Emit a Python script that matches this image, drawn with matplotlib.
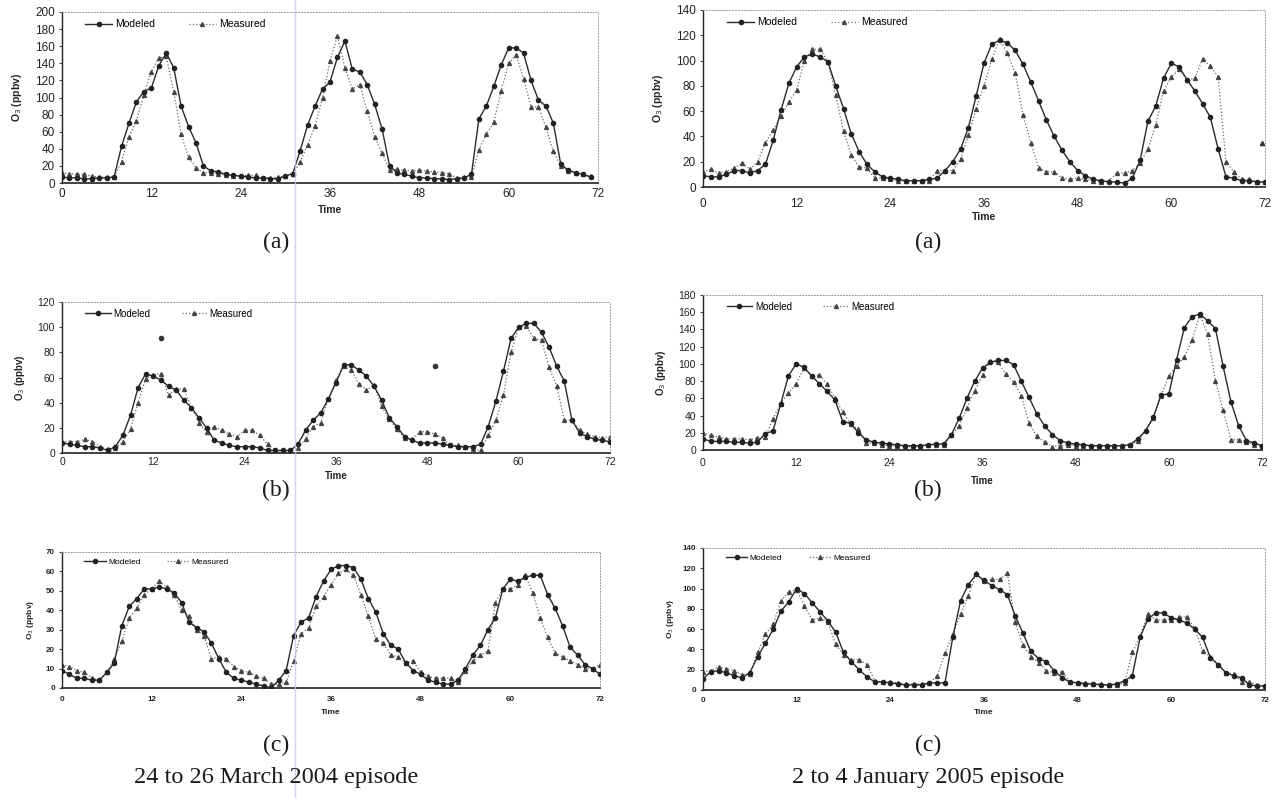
import matplotlib
matplotlib.use("Agg")
import matplotlib.pyplot as plt
from matplotlib.lines import Line2D
import numpy as np

W, H = 1282, 798
fig = plt.figure(figsize=(W / 100, H / 100), dpi=100)
fig.patch.set_facecolor("white")

plt.rcParams["font.family"] = ["Liberation Sans", "DejaVu Sans"]

# ---- data (hourly O3, ppbv) -------------------------------------------------
# 24-26 March 2004 episode
la_mod = [7, 6, 6, 5, 5, 6, 6, 7, 43, 70, 95, 107, 111, 137, 152, 135, 90, 66, 47, 20,
          14, 13, 10, 9, 8, 7, 6, 6, 5, 5, 8, 11, 38, 68, 90, 110, 118, 147, 166, 133,
          130, 115, 92, 63, 20, 12, 10, 8, 6, 6, 5, 5, 4, 5, 6, 10, 75, 90, 113, 138,
          158, 158, 152, 120, 97, 90, 70, 22, 15, 12, 10, 7]
la_meas = [12, 11, 10, 10, 8, 7, 7, 7, 25, 54, 73, 103, 130, 146, 148, 107, 57, 30, 18, 12,
           12, 11, 9, 8, 8, 9, 9, 6, 6, 7, 8, 10, 25, 45, 67, 100, 143, 172, 135, 110,
           115, 84, 54, 35, 15, 16, 15, 14, 15, 14, 13, 12, 11, 6, 7, 7, 39, 57, 71, 108,
           140, 150, 122, 89, 89, 65, 37, 20, 14, 12, 10, 8]

lb_mod = [8, 7, 6, 5, 5, 4, 2, 5, 14, 30, 52, 63, 61, 58, 53, 50, 42, 36, 28, 20,
          10, 8, 6, 5, 5, 5, 4, 2, 2, 2, 2, 7, 18, 26, 32, 43, 56, 70, 70, 66,
          61, 53, 42, 28, 21, 13, 10, 8, 8, 8, 7, 6, 5, 5, 5, 7, 21, 41, 65, 91,
          100, 103, 103, 96, 84, 69, 57, 26, 16, 13, 11, 10, 9]
lb_meas = [9, 9, 9, 11, 9, 5, 3, 4, 9, 19, 40, 59, 62, 63, 46, 51, 51, 36, 24, 17,
           21, 18, 15, 13, 18, 18, 14, 7, 2, 2, 2, 4, 11, 21, 24, 43, 58, 69, 66, 55,
           50, 54, 37, 27, 19, 12, 11, 17, 17, 15, 12, 6, 6, 5, 3, 2, 14, 26, 46, 80,
           100, 101, 91, 90, 68, 53, 26, 26, 18, 15, 13, 12, 13]
lb_odd_x = [13, 49]
lb_odd_y = [91, 69]

lc_mod = [9, 7, 5, 5, 4, 4, 8, 13, 32, 42, 46, 51, 51, 52, 51, 49, 44, 34, 31, 29,
          23, 15, 8, 5, 4, 3, 2, 1, 0, 4, 9, 27, 34, 36, 47, 55, 61, 63, 63, 62,
          56, 46, 39, 28, 22, 20, 13, 9, 7, 4, 3, 2, 2, 4, 10, 17, 22, 30, 36, 51,
          56, 55, 57, 58, 58, 48, 41, 32, 21, 17, 12, 10, 7]
lc_meas = [12, 11, 9, 8, 5, 4, 8, 15, 24, 36, 41, 48, 51, 55, 52, 48, 40, 37, 30, 27,
           15, 16, 15, 11, 9, 8, 6, 5, 2, 2, 3, 14, 28, 31, 42, 47, 53, 59, 61, 58,
           48, 37, 25, 23, 17, 16, 13, 14, 8, 6, 5, 5, 5, 3, 9, 14, 17, 19, 44, 51,
           51, 53, 58, 49, 36, 26, 18, 16, 14, 12, 10, 10, 12]

# 2-4 January 2005 episode
ra_mod = [9, 8, 8, 10, 13, 13, 11, 13, 18, 37, 61, 82, 95, 103, 105, 103, 99, 80, 62, 42,
          28, 18, 12, 8, 7, 6, 5, 5, 5, 6, 7, 13, 20, 30, 47, 72, 98, 113, 116, 114,
          108, 97, 83, 68, 53, 40, 29, 20, 13, 9, 6, 5, 4, 4, 3, 7, 21, 52, 64, 86,
          98, 95, 85, 76, 66, 55, 30, 8, 7, 5, 5, 4, 4]
ra_meas = [12, 14, 11, 12, 15, 19, 14, 20, 35, 45, 56, 67, 77, 100, 109, 109, 99, 73, 44, 25,
           16, 15, 7, 7, 6, 5, 5, 5, 5, 5, 13, 13, 13, 22, 41, 62, 80, 101, 117, 106,
           90, 57, 35, 15, 12, 12, 7, 6, 7, 6, 5, 4, 5, 11, 11, 13, 19, 30, 49, 76,
           87, 93, 85, 86, 101, 96, 87, 20, 12, 6, 6, 4, 4]
ra_odd_x = [71.6]
ra_odd_y = [35]

rb_mod = [13, 10, 10, 10, 9, 9, 8, 9, 19, 22, 53, 86, 100, 96, 86, 77, 68, 58, 33, 31,
          20, 12, 9, 8, 7, 6, 5, 5, 5, 6, 7, 7, 18, 37, 60, 80, 95, 102, 104, 104,
          99, 80, 61, 42, 28, 18, 11, 8, 7, 6, 5, 5, 5, 5, 5, 6, 13, 22, 38, 64,
          65, 105, 142, 155, 158, 150, 141, 97, 56, 28, 11, 8, 5]
rb_meas = [20, 17, 15, 13, 13, 13, 12, 14, 15, 36, 54, 66, 77, 95, 86, 87, 77, 60, 44, 30,
           24, 8, 8, 6, 5, 5, 4, 4, 4, 6, 6, 6, 17, 28, 49, 69, 87, 103, 102, 88,
           79, 63, 31, 16, 9, 4, 5, 6, 5, 5, 5, 5, 5, 5, 5, 6, 10, 23, 37, 63,
           86, 98, 108, 128, 157, 135, 80, 46, 12, 12, 9, 6, 4]

rc_mod = [11, 18, 19, 17, 14, 12, 17, 33, 46, 60, 78, 87, 100, 95, 86, 77, 68, 57, 37, 28,
          20, 13, 8, 8, 7, 6, 5, 5, 5, 7, 7, 7, 52, 88, 104, 114, 108, 103, 99, 94,
          73, 56, 38, 31, 28, 19, 12, 8, 7, 6, 6, 5, 5, 6, 9, 14, 52, 70, 76, 76,
          71, 69, 66, 60, 52, 32, 25, 17, 14, 12, 5, 4, 4]
rc_meas = [18, 19, 23, 21, 19, 15, 16, 37, 55, 65, 88, 97, 99, 83, 69, 71, 67, 45, 35, 30,
           30, 25, 9, 8, 8, 7, 6, 6, 6, 7, 14, 36, 55, 75, 93, 115, 107, 109, 109, 115,
           67, 44, 33, 27, 19, 17, 18, 8, 7, 7, 6, 6, 5, 5, 7, 37, 53, 75, 69, 69,
           69, 72, 72, 61, 38, 33, 25, 17, 16, 8, 8, 5, 4]

hour_ticks = [0, 12, 24, 36, 48, 60, 72]


def panel(box, mod, meas, ymax, ystep, tick_y, time_y, ylab_x, fs, lfs,
          odd=None, odd_marker="o"):
    x0, x1, yt, yb = box
    w, h = x1 - x0, yb - yt
    ax = fig.add_axes([x0 / W, 1 - yb / H, w / W, h / H])
    ax.plot(np.arange(len(mod)), mod, "-", color="#2b2b2b", lw=1.0,
            marker="o", ms=3.0, mfc="#222", mec="#222", label="Modeled", zorder=3)
    ax.plot(np.arange(len(meas)), meas, ":", color="#6a6a6a", lw=0.9,
            marker="^", ms=2.8, mfc="#444", mec="#444", label="Measured", zorder=2)
    if odd is not None:
        ax.plot(odd[0], odd[1], linestyle="none", marker=odd_marker, ms=3.0,
                color="#333", zorder=2, clip_on=False)
    ax.set_xlim(0, 72)
    ax.set_ylim(0, ymax)
    ax.set_xticks(hour_ticks)
    ax.set_yticks(np.arange(0, ymax + 1, ystep))

    for s in ("top", "right"):
        ax.spines[s].set_linestyle((0, (1, 2)))
        ax.spines[s].set_color("#9a9a9a")
        ax.spines[s].set_linewidth(0.7)
    ax.spines["left"].set_color("#222")
    ax.spines["left"].set_linewidth(1.0)
    ax.spines["bottom"].set_color("#333")
    ax.spines["bottom"].set_linewidth(1.3)

    fpx = fs * 100 / 72
    pad = max(tick_y - yb - 0.45 * fpx, 0) * 0.72
    ax.tick_params(axis="x", length=0, pad=pad, labelsize=fs, colors="#222")
    ax.tick_params(axis="y", length=2, width=0.6, pad=3, labelsize=fs, colors="#222")
    for lab in ax.get_xticklabels() + ax.get_yticklabels():
        lab.set_fontweight("bold" if fs < 7 else "normal")

    ax.set_xlabel("Time", fontsize=lfs, fontweight="bold", color="#222")
    ax.xaxis.set_label_coords(0.5, -(time_y - yb) / h)
    ax.xaxis.label.set_va("center")
    ax.set_ylabel("O$_3$ (ppbv)", fontsize=lfs, fontweight="bold", color="#222")
    ax.yaxis.set_label_coords((ylab_x - x0) / w, 0.5)
    ax.yaxis.label.set_va("center")

    ax.legend(loc="upper left", bbox_to_anchor=(0.03, 1.0), ncol=2, frameon=False,
              fontsize=lfs, handlelength=2.6, columnspacing=3.2, handletextpad=0.3,
              borderaxespad=0.3)
    return ax


panel((62, 598, 12, 183), la_mod, la_meas, 200, 20, 193, 210, 17, 8.5, 7.5)
panel((62, 610, 302, 453), lb_mod, lb_meas, 120, 20, 462, 476, 20, 7.5, 7.0,
      odd=(lb_odd_x, lb_odd_y))
panel((62, 600, 552, 688), lc_mod, lc_meas, 70, 10, 700, 712, 30, 5.8, 6.0)

panel((703, 1265, 10, 187), ra_mod, ra_meas, 140, 20, 203, 217, 658, 8.5, 7.5,
      odd=(ra_odd_x, ra_odd_y), odd_marker="^")
panel((703, 1262, 295, 450), rb_mod, rb_meas, 180, 20, 463, 481, 661, 7.5, 7.0)
panel((703, 1265, 548, 690), rc_mod, rc_meas, 140, 20, 701, 713, 670, 5.8, 6.0)

# panel captions
serif = ["Liberation Serif", "DejaVu Serif"]
for cx in (276, 928):
    for cy, s in ((242, "(a)"), (490, "(b)"), (745, "(c)")):
        fig.text(cx / W, 1 - cy / H, s, fontsize=17, family=serif,
                 ha="center", va="center", color="#1a1a1a")
fig.text(276 / W, 1 - 778 / H, "24 to 26 March 2004 episode", fontsize=17.5,
         family=serif, ha="center", va="center", color="#1a1a1a")
fig.text(928 / W, 1 - 778 / H, "2 to 4 January 2005 episode", fontsize=17.5,
         family=serif, ha="center", va="center", color="#1a1a1a")

# faint scan streak running down the left column
fig.add_artist(Line2D([295 / W, 295 / W], [0, 1], color="#c8c8e4", lw=1.0, alpha=0.8))

fig.savefig("out.png", dpi=100, facecolor="white")
